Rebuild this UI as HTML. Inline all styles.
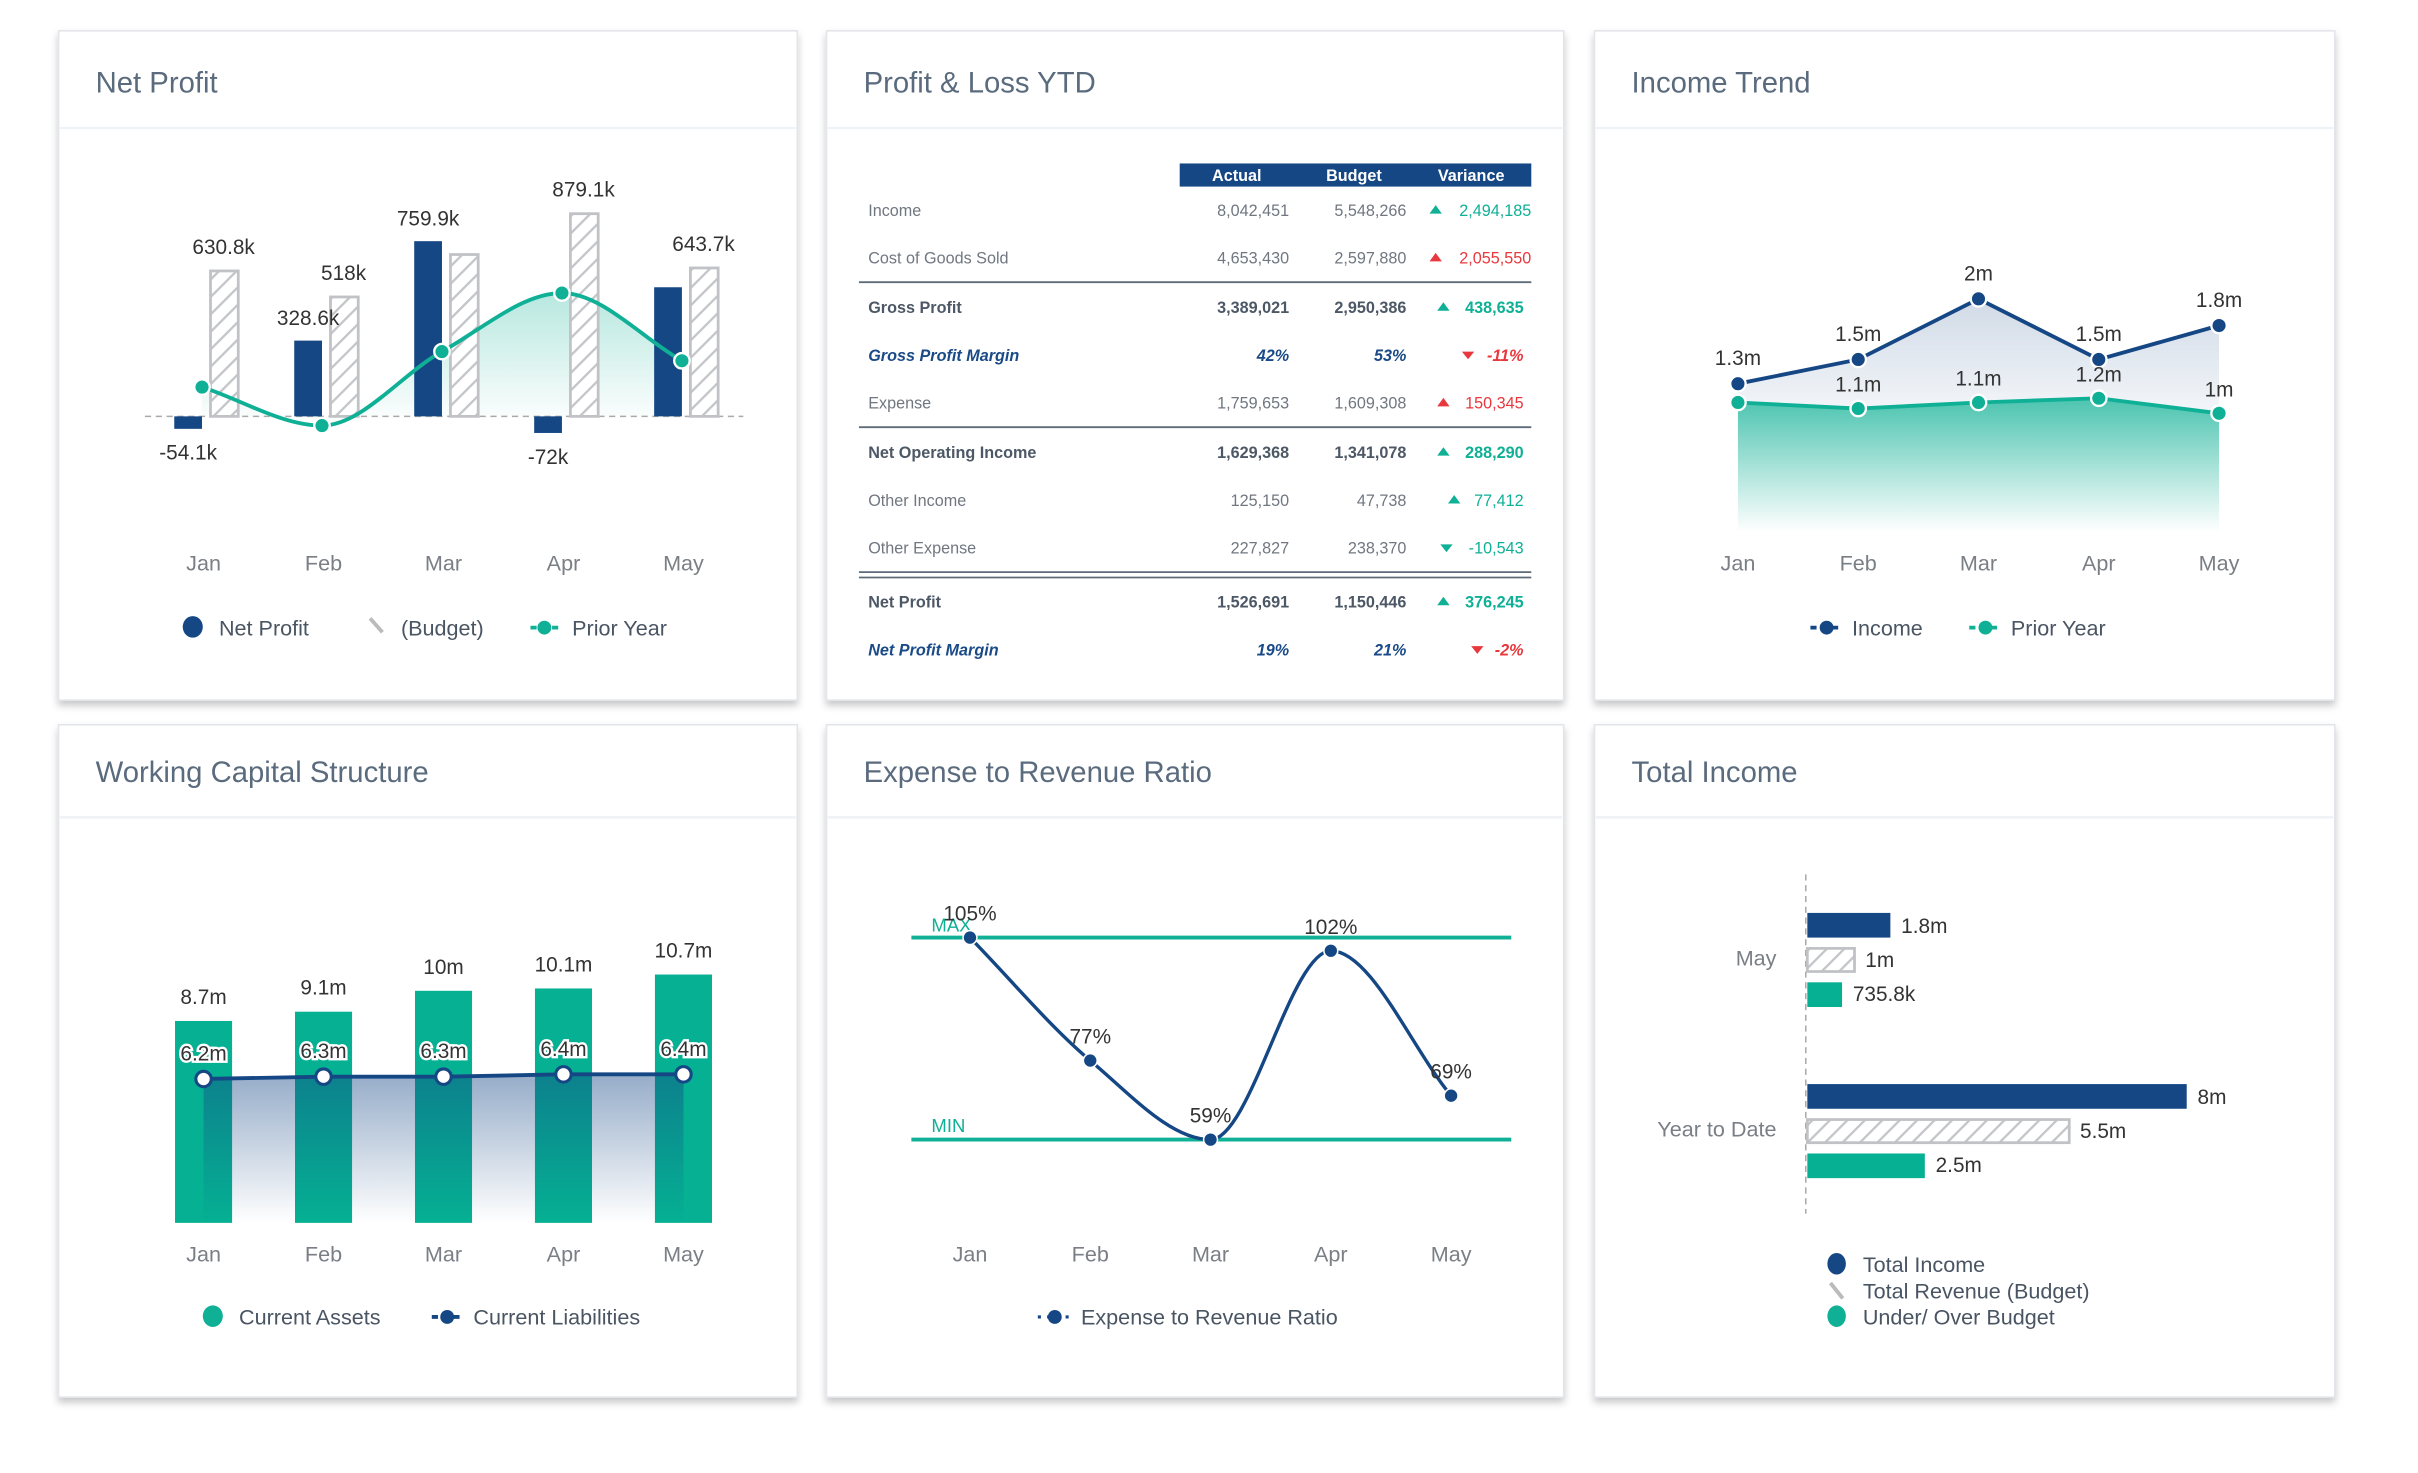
<!DOCTYPE html>
<html><head><meta charset="utf-8"><title>Financial Dashboard</title>
<style>
html,body{margin:0;padding:0;background:#fff;}
svg{display:block;font-family:"Liberation Sans",sans-serif;}
.ttl{font-size:19px;fill:#5b6b7e;}
.lbl{font-size:13.5px;fill:#333;}
.mon{font-size:14px;fill:#7a7f86;text-anchor:middle;}
.leg{font-size:14px;fill:#4a5563;}
.tb{font-size:10.5px;fill:#707780;}
.tbb{font-size:10.5px;fill:#4d5866;font-weight:bold;}
.tbi{font-size:10.5px;fill:#1a4a87;font-weight:bold;font-style:italic;}
</style></head>
<body>
<svg id="root" width="2418" height="1473" viewBox="0 0 1568 955.2" xmlns="http://www.w3.org/2000/svg">
<defs>
<filter id="sh" x="-5%" y="-5%" width="110%" height="112%"><feDropShadow dx="0" dy="3" stdDeviation="2.5" flood-color="#000" flood-opacity="0.22"/></filter>
<pattern id="hatch" width="8" height="8" patternUnits="userSpaceOnUse" patternTransform="rotate(45)"><rect width="8" height="8" fill="#fff"/><line x1="0" y1="0" x2="0" y2="8" stroke="#c3c5c9" stroke-width="3"/></pattern>
<linearGradient id="gTeal" x1="0" y1="0" x2="0" y2="1"><stop offset="0" stop-color="#0fb095" stop-opacity="0.3"/><stop offset="1" stop-color="#0fb095" stop-opacity="0"/></linearGradient>
<linearGradient id="gTeal2" x1="0" y1="0" x2="0" y2="1"><stop offset="0" stop-color="#0fb095" stop-opacity="0.75"/><stop offset="1" stop-color="#0fb095" stop-opacity="0"/></linearGradient>
<linearGradient id="gNavy" x1="0" y1="0" x2="0" y2="1"><stop offset="0" stop-color="#154785" stop-opacity="0.2"/><stop offset="1" stop-color="#154785" stop-opacity="0.05"/></linearGradient>
<linearGradient id="gNavy2" x1="0" y1="0" x2="0" y2="1"><stop offset="0" stop-color="#154785" stop-opacity="0.45"/><stop offset="1" stop-color="#154785" stop-opacity="0"/></linearGradient>
</defs>

<!-- panels -->
<g>
<rect x="38" y="20" width="479" height="434" fill="#fff" stroke="#e2e5e9" filter="url(#sh)"/>
<line x1="39" y1="83" x2="516" y2="83" stroke="#eef1f5" stroke-width="1.5"/>
<text x="62" y="60" class="ttl">Net Profit</text>
</g>
<g>
<rect x="536" y="20" width="478" height="434" fill="#fff" stroke="#e2e5e9" filter="url(#sh)"/>
<line x1="537" y1="83" x2="1013" y2="83" stroke="#eef1f5" stroke-width="1.5"/>
<text x="560" y="60" class="ttl">Profit &amp; Loss YTD</text>
</g>
<g>
<rect x="1034" y="20" width="480" height="434" fill="#fff" stroke="#e2e5e9" filter="url(#sh)"/>
<line x1="1035" y1="83" x2="1513" y2="83" stroke="#eef1f5" stroke-width="1.5"/>
<text x="1058" y="60" class="ttl">Income Trend</text>
</g>
<g>
<rect x="38" y="470" width="479" height="436" fill="#fff" stroke="#e2e5e9" filter="url(#sh)"/>
<line x1="39" y1="530" x2="516" y2="530" stroke="#eef1f5" stroke-width="1.5"/>
<text x="62" y="507" class="ttl">Working Capital Structure</text>
</g>
<g>
<rect x="536" y="470" width="478" height="436" fill="#fff" stroke="#e2e5e9" filter="url(#sh)"/>
<line x1="537" y1="530" x2="1013" y2="530" stroke="#eef1f5" stroke-width="1.5"/>
<text x="560" y="507" class="ttl">Expense to Revenue Ratio</text>
</g>
<g>
<rect x="1034" y="470" width="480" height="436" fill="#fff" stroke="#e2e5e9" filter="url(#sh)"/>
<line x1="1035" y1="530" x2="1513" y2="530" stroke="#eef1f5" stroke-width="1.5"/>
<text x="1058" y="507" class="ttl">Total Income</text>
</g>

<!-- P&L table -->
<g>
<rect x="765" y="106" width="228" height="15" fill="#154785"/>
<text x="802" y="117.5" text-anchor="middle" font-size="10.5" font-weight="bold" fill="#fff">Actual</text>
<text x="878" y="117.5" text-anchor="middle" font-size="10.5" font-weight="bold" fill="#fff">Budget</text>
<text x="954" y="117.5" text-anchor="middle" font-size="10.5" font-weight="bold" fill="#fff">Variance</text>
<line x1="557" y1="183" x2="993" y2="183" stroke="#5f6b78" stroke-width="1.2"/>
<line x1="557" y1="277" x2="993" y2="277" stroke="#5f6b78" stroke-width="1.2"/>
<line x1="557" y1="371" x2="993" y2="371" stroke="#5f6b78" stroke-width="1.2"/>
<line x1="557" y1="374.5" x2="993" y2="374.5" stroke="#5f6b78" stroke-width="1.2"/>
<g id="tableRows"></g>
</g>

<!-- legends -->
<g>
<g><ellipse cx="125" cy="406.5" rx="6.5" ry="7" fill="#154785"/><text x="142" y="412" class="leg">Net Profit</text></g>
<g><line x1="240" y1="401" x2="248" y2="410" stroke="#bbb" stroke-width="2.5"/><text x="260" y="412" class="leg">(Budget)</text></g>
<g><line x1="344" y1="407" x2="362" y2="407" stroke="#0fb095" stroke-width="2.5" stroke-dasharray="4,3"/><circle cx="353" cy="407" r="4.5" fill="#0fb095"/><text x="371" y="412" class="leg">Prior Year</text></g>
</g>
<g>
<g><line x1="1174" y1="407" x2="1195" y2="407" stroke="#154785" stroke-width="2.5" stroke-dasharray="4,3"/><circle cx="1184.5" cy="407" r="4.5" fill="#154785"/><text x="1201" y="412" class="leg">Income</text></g>
<g><line x1="1277" y1="407" x2="1298" y2="407" stroke="#0fb095" stroke-width="2.5" stroke-dasharray="4,3"/><circle cx="1287.5" cy="407" r="4.5" fill="#0fb095"/><text x="1304" y="412" class="leg">Prior Year</text></g>
</g>
<g>
<g><ellipse cx="138" cy="853.5" rx="6.5" ry="7" fill="#0fb095"/><text x="155" y="859" class="leg">Current Assets</text></g>
<g><line x1="280" y1="854" x2="300" y2="854" stroke="#154785" stroke-width="2.5" stroke-dasharray="4,3"/><circle cx="290" cy="854" r="4.5" fill="#154785"/><text x="307" y="859" class="leg">Current Liabilities</text></g>
</g>
<g>
<line x1="673" y1="854" x2="693" y2="854" stroke="#154785" stroke-width="2" stroke-dasharray="2,4"/><circle cx="684" cy="854" r="4.5" fill="#154785"/><text x="701" y="859" class="leg">Expense to Revenue Ratio</text>
</g>
<g>
<g><ellipse cx="1191" cy="819.5" rx="6" ry="7" fill="#154785"/><text x="1208" y="825" class="leg">Total Income</text></g>
<g><line x1="1187" y1="832" x2="1195" y2="842" stroke="#bbb" stroke-width="2.5"/><text x="1208" y="842" class="leg">Total Revenue (Budget)</text></g>
<g><ellipse cx="1191" cy="853.5" rx="6" ry="7" fill="#0fb095"/><text x="1208" y="859" class="leg">Under/ Over Budget</text></g>
</g>

<g id="c1"></g>
<g id="c3"></g>
<g id="c4"></g>
<g id="c5"></g>
<g id="c6"></g>
</svg>

<script>
// ---------- data ----------
const months = ["Jan","Feb","Mar","Apr","May"];
// Net Profit (k)
const npActual = [-54.1, 328.6, 759.9, -72, 560];
const npBudget = [630.8, 518, 702, 879.1, 643.7];
const npPrior = [127, -40, 281, 535, 241];
const npActualLabels = ["-54.1k","328.6k","759.9k","-72k",""];
const npBudgetLabels = ["630.8k","518k","","879.1k","643.7k"];
// Income trend (m)
const itIncome = [1.30, 1.50, 2.0, 1.50, 1.78];
const itPrior = [1.145, 1.095, 1.145, 1.18, 1.056];
const itIncomeLabels = ["1.3m","1.5m","2m","1.5m","1.8m"];
const itPriorLabels = ["","1.1m","1.1m","1.2m","1m"];
// Working capital (m)
const wcAssets = [8.7, 9.1, 10.0, 10.1, 10.7];
const wcLiab = [6.2, 6.3, 6.3, 6.4, 6.4];
const wcAssetLabels = ["8.7m","9.1m","10m","10.1m","10.7m"];
const wcLiabLabels = ["6.2m","6.3m","6.3m","6.4m","6.4m"];
// Expense to revenue ratio (%)
const erRatio = [105, 77, 59, 102, 69];
const erLabels = ["105%","77%","59%","102%","69%"];
const erMax = 105;
const erMin = 59;
// Total income (m)
const tiCategories = ["May","Year to Date"];
const tiIncome = [1.76, 8.04];
const tiBudget = [1.0, 5.55];
const tiVariance = [0.7358, 2.49];
const tiIncomeLabels = ["1.8m","8m"];
const tiBudgetLabels = ["1m","5.5m"];
const tiVarianceLabels = ["735.8k","2.5m"];
// P&L table
const plLabels = ["Income","Cost of Goods Sold","Gross Profit","Gross Profit Margin","Expense","Net Operating Income","Other Income","Other Expense","Net Profit","Net Profit Margin"];
const plActual = ["8,042,451","4,653,430","3,389,021","42%","1,759,653","1,629,368","125,150","227,827","1,526,691","19%"];
const plBudget = ["5,548,266","2,597,880","2,950,386","53%","1,609,308","1,341,078","47,738","238,370","1,150,446","21%"];
const plVariance = ["2,494,185","2,055,550","438,635","-11%","150,345","288,290","77,412","-10,543","376,245","-2%"];
const plUp = [true,true,true,false,true,true,true,false,true,false];
const plGood = [true,false,true,false,false,true,true,true,true,false];
const plStyle = ["n","n","b","i","n","b","n","n","b","i"];

// ---------- helpers ----------
const NS = "http://www.w3.org/2000/svg";
function mk(parent, tag, attrs, text){
  const e = document.createElementNS(NS, tag);
  for (const k in attrs) e.setAttribute(k, attrs[k]);
  if (text !== undefined) e.textContent = text;
  parent.appendChild(e);
  return e;
}
function monotone(pts){
  const n = pts.length; if (n < 2) return "";
  const dx=[],dy=[],m=[],t=[];
  for (let i=0;i<n-1;i++){dx[i]=pts[i+1][0]-pts[i][0];dy[i]=pts[i+1][1]-pts[i][1];m[i]=dy[i]/dx[i];}
  t[0]=m[0]; t[n-1]=m[n-2];
  for (let i=1;i<n-1;i++){ if (m[i-1]*m[i]<=0) t[i]=0; else { const s=(dx[i-1]*m[i-1]+dx[i]*m[i])/(dx[i-1]+dx[i]); t[i]=Math.sign(s)*Math.min(Math.abs(s),3*Math.min(Math.abs(m[i-1]),Math.abs(m[i]))*0.5+Math.abs(s)*0);} }
  for (let i=1;i<n-1;i++){ if (m[i-1]*m[i]>0){ const s=(dx[i-1]*m[i-1]+dx[i]*m[i])/(dx[i-1]+dx[i]); const lim=2*Math.min(Math.abs(m[i-1]),Math.abs(m[i])); t[i]=Math.sign(s)*Math.min(Math.abs(s),lim);} }
  let d = "M"+pts[0][0]+","+pts[0][1];
  for (let i=0;i<n-1;i++){
    const h=dx[i]/3;
    d += " C"+(pts[i][0]+h)+","+(pts[i][1]+t[i]*h)+" "+(pts[i+1][0]-h)+","+(pts[i+1][1]-t[i+1]*h)+" "+pts[i+1][0]+","+pts[i+1][1];
  }
  return d;
}
const NAVY="#154785", TEAL="#0fb095";
const xMonth = i => 132 + i*77.8;   // month centers (panels col1)
const xMonth5 = i => 629 + i*78;    // expense ratio
const xMonth3 = i => 1127 + i*78;   // income trend

// ---------- P&L table ----------
(function(){
  const g = document.getElementById("tableRows");
  const rowY = [136,167,199,230,261,293,324,355,390,421];
  const triX = [931,931,936,952,936,936,943,938,936,958];
  for (let i=0;i<plLabels.length;i++){
    const y = rowY[i]+4;
    const cls = plStyle[i]==="b" ? "tbb" : plStyle[i]==="i" ? "tbi" : "tb";
    const lab = mk(g,"text",{x:563,y:y,class:cls},plLabels[i]);
    
    
    const a = mk(g,"text",{x:836,y:y,class:cls,"text-anchor":"end"},plActual[i]);
    
    
    const b = mk(g,"text",{x:912,y:y,class:cls,"text-anchor":"end"},plBudget[i]);
    
    
    const col = plGood[i] ? TEAL : "#e8383d";
    const vx = (i<2) ? 993 : 988;
    const v = mk(g,"text",{x:vx,y:y,"font-size":"10.5","text-anchor":"end",fill:col,"font-weight":plStyle[i]==="n"?"normal":"bold","font-style":plStyle[i]==="i"?"italic":"normal"},plVariance[i]);
    
    
    const tx = triX[i], ty = rowY[i];
    const pts = plUp[i] ? `${tx-4},${ty+2.5} ${tx+4},${ty+2.5} ${tx},${ty-3}` : `${tx-4},${ty-2} ${tx+4},${ty-2} ${tx},${ty+3}`;
    const tri = mk(g,"polygon",{points:pts,fill:col});
    
    
  }
})();

// ---------- Net Profit ----------
(function(){
  const g = document.getElementById("c1");
  const zeroY = 270, k = 0.1495;
  const y = v => zeroY - v*k;
  const base = mk(g,"line",{x1:94,y1:zeroY,x2:482,y2:zeroY,stroke:"#aaa","stroke-dasharray":"4,3"});
  
  
  const pts = npPrior.map((v,i)=>[xMonth(i)-1,y(v)]);
  const curve = monotone(pts);
  const area = mk(g,"path",{d:curve+` L${pts[pts.length-1][0]},${zeroY} L${pts[0][0]},${zeroY} Z`,fill:"url(#gTeal)"});
  
  
  months.forEach((m,i)=>{
    const c = xMonth(i);
    const va = npActual[i];
    const ba = mk(g,"rect",{x:c-19,y:Math.min(y(va),zeroY),width:18,height:Math.abs(va*k),fill:NAVY});
    
    
    const vb = npBudget[i];
    const bb = mk(g,"rect",{x:c+4.5,y:y(vb),width:18,height:vb*k,fill:"url(#hatch)",stroke:"#c0c2c6","stroke-width":1.8});
    
    
    if (npActualLabels[i]){
      const ty = va>=0 ? y(va)-10 : zeroY - va*k + 20;
      const t = mk(g,"text",{x:c-10,y:ty,class:"lbl","text-anchor":"middle"},npActualLabels[i]);
      
      
    }
    if (npBudgetLabels[i]){
      const t = mk(g,"text",{x:c+13,y:y(vb)-11,class:"lbl","text-anchor":"middle"},npBudgetLabels[i]);
      
      
    }
    const ml = mk(g,"text",{x:c,y:370,class:"mon"},m);
    
    
  });
  const line = mk(g,"path",{d:curve,fill:"none",stroke:TEAL,"stroke-width":2.5});
  
  
  pts.forEach(p=>{
    const c = mk(g,"circle",{cx:p[0],cy:p[1],r:5,fill:TEAL,stroke:"#fff","stroke-width":1.5});
    
    
  });
})();

// ---------- Income Trend ----------
(function(){
  const g = document.getElementById("c3");
  const zeroY = 351, k = 78.6, bottom = 345;
  const y = v => zeroY - v*k;
  const ip = itIncome.map((v,i)=>[xMonth3(i),y(v)]);
  const pp = itPrior.map((v,i)=>[xMonth3(i),y(v)]);
  const lin = p => "M"+p.map(q=>q.join(",")).join(" L");
  const a1 = mk(g,"path",{d:lin(pp)+` L${pp[4][0]},${bottom} L${pp[0][0]},${bottom} Z`,fill:"url(#gTeal2)"});
  
  
  const a2 = mk(g,"path",{d:lin(ip)+" L"+pp.slice().reverse().map(q=>q.join(",")).join(" L")+" Z",fill:"url(#gNavy)"});
  
  
  const l1 = mk(g,"path",{d:lin(pp),fill:"none",stroke:TEAL,"stroke-width":2.5});
  
  
  const l2 = mk(g,"path",{d:lin(ip),fill:"none",stroke:NAVY,"stroke-width":2.5});
  
  
  months.forEach((m,i)=>{
    const c1 = mk(g,"circle",{cx:pp[i][0],cy:pp[i][1],r:5,fill:TEAL,stroke:"#fff","stroke-width":1.5});
    
    
    const c2 = mk(g,"circle",{cx:ip[i][0],cy:ip[i][1],r:5,fill:NAVY,stroke:"#fff","stroke-width":1.5});
    
    
    const t1 = mk(g,"text",{x:ip[i][0],y:ip[i][1]-12,class:"lbl","text-anchor":"middle"},itIncomeLabels[i]);
    
    
    if (itPriorLabels[i]){
      const t2 = mk(g,"text",{x:pp[i][0],y:pp[i][1]-11,class:"lbl","text-anchor":"middle"},itPriorLabels[i]);
      
      
    }
    const ml = mk(g,"text",{x:xMonth3(i),y:370,class:"mon"},m);
    
    
  });
})();

// ---------- Working Capital ----------
(function(){
  const g = document.getElementById("c4");
  const zeroY = 793, k = 15.05;
  const y = v => zeroY - v*k;
  months.forEach((m,i)=>{
    const c = xMonth(i);
    const b = mk(g,"rect",{x:c-18.5,y:y(wcAssets[i]),width:37,height:wcAssets[i]*k,fill:"#05b093"});
    
    
    const t = mk(g,"text",{x:c,y:y(wcAssets[i])-11,class:"lbl","text-anchor":"middle"},wcAssetLabels[i]);
    
    
    const ml = mk(g,"text",{x:c,y:818,class:"mon"},m);
    
    
  });
  const lp = wcLiab.map((v,i)=>[xMonth(i),y(v)]);
  const lin = "M"+lp.map(q=>q.join(",")).join(" L");
  const area = mk(g,"path",{d:lin+` L${lp[4][0]},${zeroY} L${lp[0][0]},${zeroY} Z`,fill:"url(#gNavy2)"});
  
  
  const line = mk(g,"path",{d:lin,fill:"none",stroke:NAVY,"stroke-width":2.5});
  
  
  lp.forEach((p,i)=>{
    const c = mk(g,"circle",{cx:p[0],cy:p[1],r:5,fill:"#fff",stroke:NAVY,"stroke-width":2});
    
    
    const t = mk(g,"text",{x:p[0],y:p[1]-12,class:"lbl","text-anchor":"middle",stroke:"#fff","stroke-width":3,"paint-order":"stroke"},wcLiabLabels[i]);
    
    
  });
})();

// ---------- Expense to Revenue Ratio ----------
(function(){
  const g = document.getElementById("c5");
  const k = 2.848, refY = 608;
  const y = v => refY + (erMax - v)*k;
  const mx = mk(g,"line",{x1:591,y1:y(erMax),x2:980,y2:y(erMax),stroke:TEAL,"stroke-width":2.5});
  
  
  const mn = mk(g,"line",{x1:591,y1:y(erMin),x2:980,y2:y(erMin),stroke:TEAL,"stroke-width":2.5});
  
  
  const tmx = mk(g,"text",{x:604,y:y(erMax)-4,"font-size":"12",fill:TEAL},"MAX");
  
  
  const tmn = mk(g,"text",{x:604,y:y(erMin)-5,"font-size":"12",fill:TEAL},"MIN");
  
  
  const pts = erRatio.map((v,i)=>[xMonth5(i),y(v)]);
  const line = mk(g,"path",{d:monotone(pts),fill:"none",stroke:NAVY,"stroke-width":2.2});
  
  
  pts.forEach((p,i)=>{
    const c = mk(g,"circle",{cx:p[0],cy:p[1],r:4.5,fill:NAVY,stroke:"#fff","stroke-width":1});
    
    
    const t = mk(g,"text",{x:p[0],y:p[1]-11,class:"lbl","text-anchor":"middle"},erLabels[i]);
    
    
    const ml = mk(g,"text",{x:p[0],y:818,class:"mon"},months[i]);
    
    
  });
})();

// ---------- Total Income ----------
(function(){
  const g = document.getElementById("c6");
  const x0 = 1172, k = 30.6;
  const catY = [592, 703];
  const ax = mk(g,"line",{x1:1171,y1:567,x2:1171,y2:787,stroke:"#aaa","stroke-dasharray":"4,3"});
  
  
  tiCategories.forEach((cat,i)=>{
    const top = catY[i];
    const cl = mk(g,"text",{x:1152,y:top+34,"font-size":"14",fill:"#7a7f86","text-anchor":"end"},cat);
    
    
    const b1 = mk(g,"rect",{x:x0,y:top,width:tiIncome[i]*k,height:16,fill:NAVY});
    
    
    const b2 = mk(g,"rect",{x:x0,y:top+23,width:tiBudget[i]*k,height:15,fill:"url(#hatch)",stroke:"#c0c2c6","stroke-width":1.8});
    
    
    const b3 = mk(g,"rect",{x:x0,y:top+45,width:tiVariance[i]*k,height:16,fill:"#05b093"});
    
    
    const t1 = mk(g,"text",{x:x0+tiIncome[i]*k+7,y:top+13,class:"lbl"},tiIncomeLabels[i]);
    
    
    const t2 = mk(g,"text",{x:x0+tiBudget[i]*k+7,y:top+35,class:"lbl"},tiBudgetLabels[i]);
    
    
    const t3 = mk(g,"text",{x:x0+tiVariance[i]*k+7,y:top+57,class:"lbl"},tiVarianceLabels[i]);
    
    
  });
})();
</script>
</body></html>
